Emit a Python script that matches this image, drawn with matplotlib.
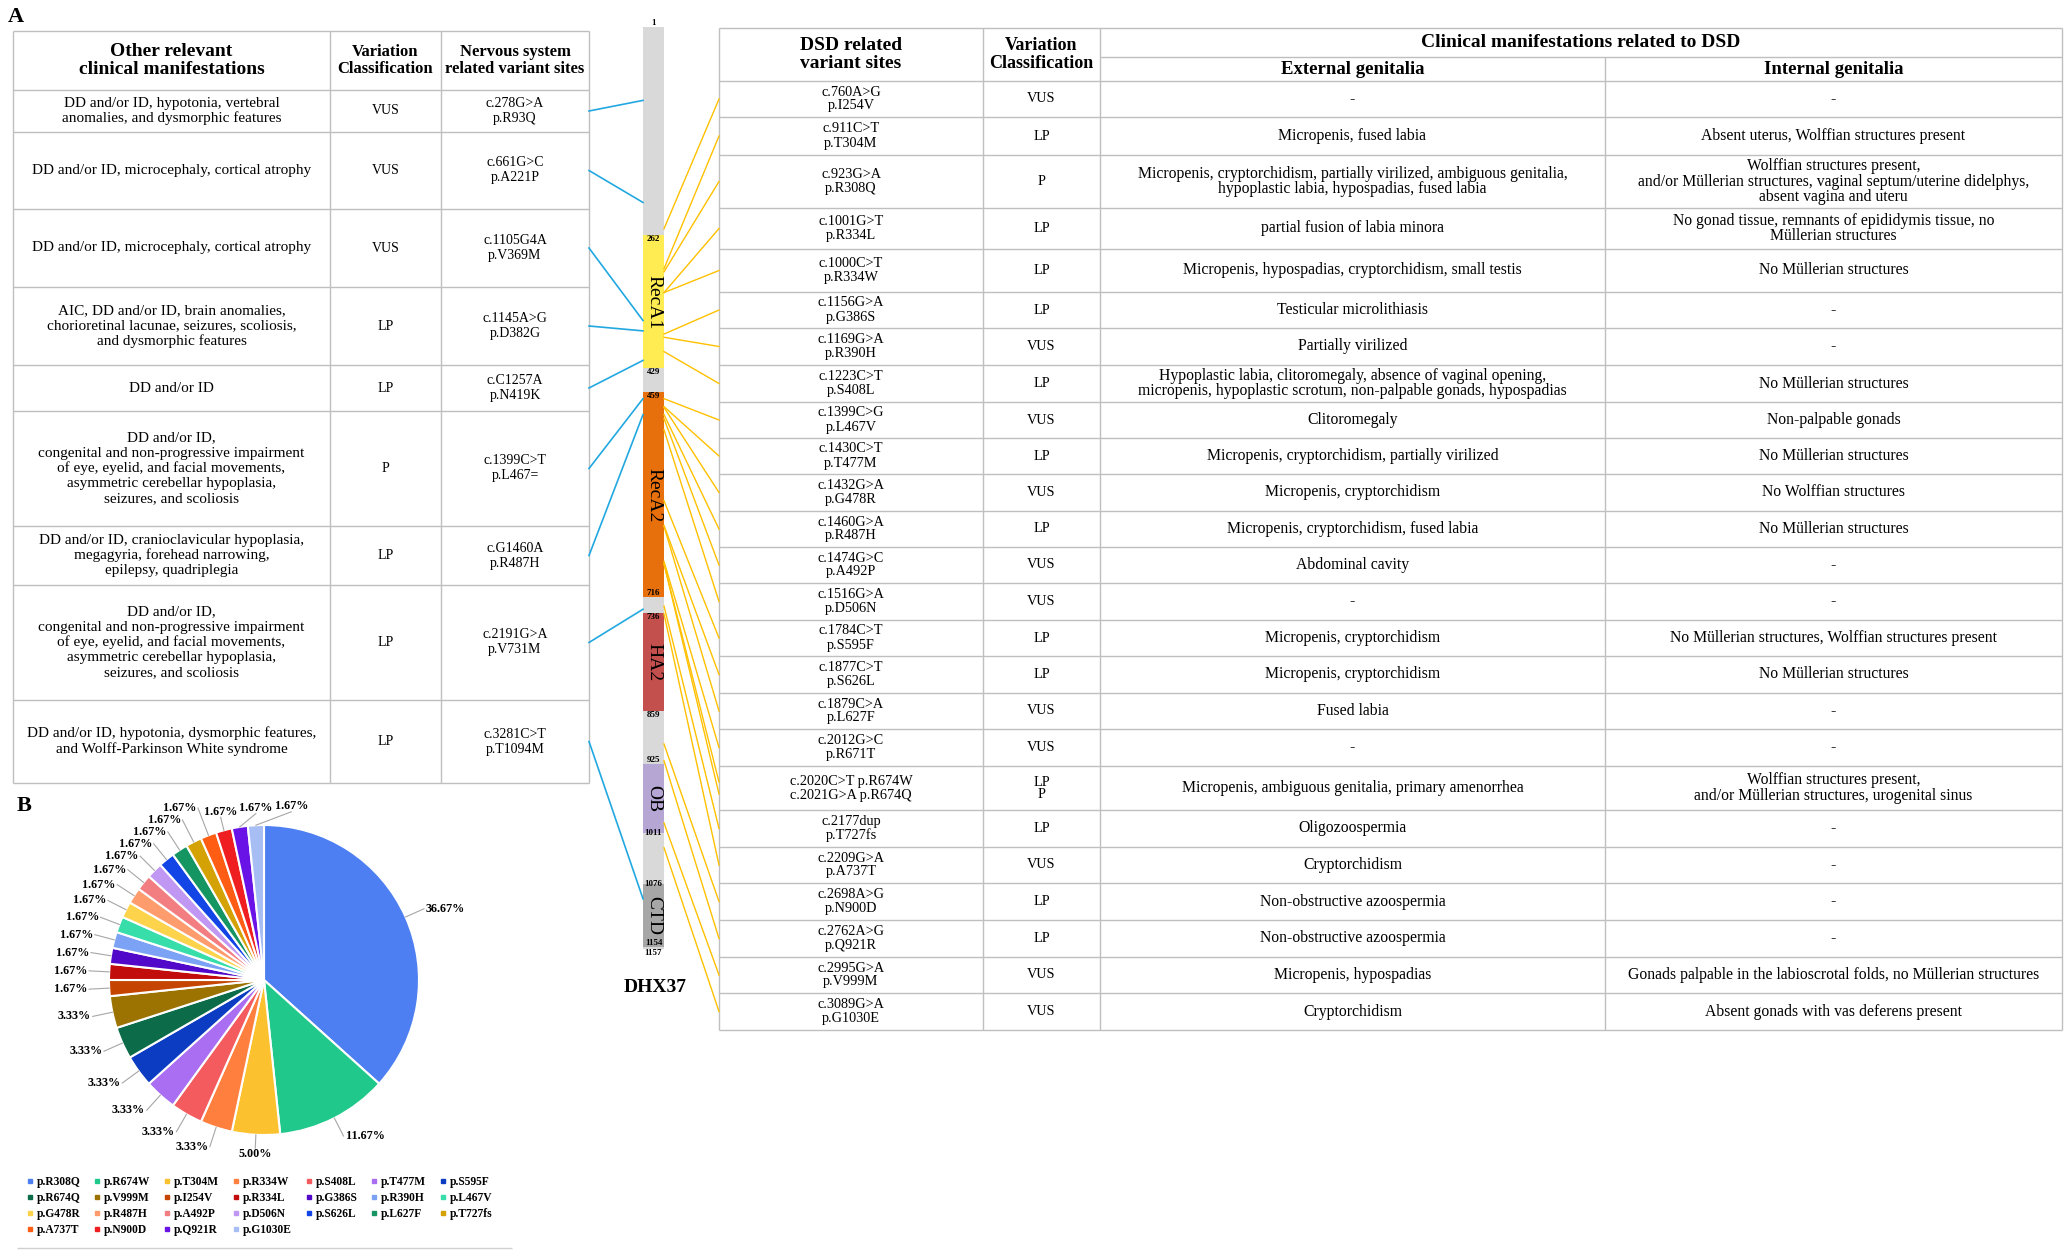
import matplotlib.pyplot as plt
from matplotlib.patches import Rectangle
from matplotlib.lines import Line2D
import numpy as np

plt.rcParams['font.family'] = ['Liberation Serif', 'DejaVu Serif']

# ---------------- data ----------------
# left table: nervous system related variants
other_manif = [
    'DD and/or ID, hypotonia, vertebral\nanomalies, and dysmorphic features',
    'DD and/or ID, microcephaly, cortical atrophy',
    'DD and/or ID, microcephaly, cortical atrophy',
    'AIC, DD and/or ID, brain anomalies,\nchorioretinal lacunae, seizures, scoliosis,\nand dysmorphic features',
    'DD and/or ID',
    'DD and/or ID,\ncongenital and non-progressive impairment\nof eye, eyelid, and facial movements,\n'
    'asymmetric cerebellar hypoplasia,\nseizures, and scoliosis',
    'DD and/or ID, cranioclavicular hypoplasia,\nmegagyria, forehead narrowing,\nepilepsy, quadriplegia',
    'DD and/or ID,\ncongenital and non-progressive impairment\nof eye, eyelid, and facial movements,\n'
    'asymmetric cerebellar hypoplasia,\nseizures, and scoliosis',
    'DD and/or ID, hypotonia, dysmorphic features,\nand Wolff-Parkinson White syndrome',
]
nerv_class = ['VUS', 'VUS', 'VUS', 'LP', 'LP', 'P', 'LP', 'LP', 'LP']
nerv_sites = ['c.278G>A\np.R93Q', 'c.661G>C\np.A221P', 'c.1105G4A\np.V369M', 'c.1145A>G\np.D382G',
              'c.C1257A\np.N419K', 'c.1399C>T\np.L467=', 'c.G1460A\np.R487H', 'c.2191G>A\np.V731M',
              'c.3281C>T\np.T1094M']
nerv_res = [93, 221, 369, 382, 419, 467, 487, 731, 1094]

# right table: DSD related variants
dsd_sites = ['c.760A>G\np.I254V', 'c.911C>T\np.T304M', 'c.923G>A\np.R308Q', 'c.1001G>T\np.R334L',
             'c.1000C>T\np.R334W', 'c.1156G>A\np.G386S', 'c.1169G>A\np.R390H', 'c.1223C>T\np.S408L',
             'c.1399C>G\np.L467V', 'c.1430C>T\np.T477M', 'c.1432G>A\np.G478R', 'c.1460G>A\np.R487H',
             'c.1474G>C\np.A492P', 'c.1516G>A\np.D506N', 'c.1784C>T\np.S595F', 'c.1877C>T\np.S626L',
             'c.1879C>A\np.L627F', 'c.2012G>C\np.R671T', 'c.2020C>T p.R674W\nc.2021G>A p.R674Q',
             'c.2177dup\np.T727fs', 'c.2209G>A\np.A737T', 'c.2698A>G\np.N900D', 'c.2762A>G\np.Q921R',
             'c.2995G>A\np.V999M', 'c.3089G>A\np.G1030E']
dsd_class = ['VUS', 'LP', 'P', 'LP', 'LP', 'LP', 'VUS', 'LP', 'VUS', 'LP', 'VUS', 'LP', 'VUS', 'VUS',
             'LP', 'LP', 'VUS', 'VUS', 'LP\nP', 'LP', 'VUS', 'LP', 'LP', 'VUS', 'VUS']
external = ['-', 'Micropenis, fused labia',
            'Micropenis, cryptorchidism, partially virilized, ambiguous genitalia,\n'
            'hypoplastic labia, hypospadias, fused labia',
            'partial fusion of labia minora', 'Micropenis, hypospadias, cryptorchidism, small testis',
            'Testicular microlithiasis', 'Partially virilized',
            'Hypoplastic labia, clitoromegaly, absence of vaginal opening,\n'
            'micropenis, hypoplastic scrotum, non-palpable gonads, hypospadias',
            'Clitoromegaly', 'Micropenis, cryptorchidism, partially virilized', 'Micropenis, cryptorchidism',
            'Micropenis, cryptorchidism, fused labia', 'Abdominal cavity', '-', 'Micropenis, cryptorchidism',
            'Micropenis, cryptorchidism', 'Fused labia', '-',
            'Micropenis, ambiguous genitalia, primary amenorrhea', 'Oligozoospermia', 'Cryptorchidism',
            'Non-obstructive azoospermia', 'Non-obstructive azoospermia', 'Micropenis, hypospadias',
            'Cryptorchidism']
internal = ['-', 'Absent uterus, Wolffian structures present',
            'Wolffian structures present,\nand/or M\u00fcllerian structures, vaginal septum/uterine didelphys,\n'
            'absent vagina and uteru',
            'No gonad tissue, remnants of epididymis tissue, no\nM\u00fcllerian structures',
            'No M\u00fcllerian structures', '-', '-', 'No M\u00fcllerian structures', 'Non-palpable gonads',
            'No M\u00fcllerian structures', 'No Wolffian structures', 'No M\u00fcllerian structures', '-', '-',
            'No M\u00fcllerian structures, Wolffian structures present', 'No M\u00fcllerian structures', '-', '-',
            'Wolffian structures present,\nand/or M\u00fcllerian structures, urogenital sinus',
            '-', '-', '-', '-', 'Gonads palpable in the labioscrotal folds, no M\u00fcllerian structures',
            'Absent gonads with vas deferens present']
dsd_res = [[254], [304], [308], [334], [334], [386], [390], [408], [467], [477], [478], [487], [492],
           [506], [595], [626], [627], [671], [674, 674], [727], [737], [900], [921], [999], [1030]]

# DHX37 protein domains
prot_len = 1157
dom_names = ['RecA1', 'RecA2', 'HA2', 'OB', 'CTD']
dom_start = [262, 459, 736, 925, 1076]
dom_end = [429, 716, 859, 1011, 1154]
dom_colors = ['#ffec52', '#e8700c', '#c4504e', '#b5a6d4', '#a7a7a7']
pos_labels = [1, 262, 429, 459, 716, 736, 859, 925, 1011, 1076, 1154, 1157]
pos_va = ['bottom', 'top', 'top', 'top', 'bottom', 'top', 'top', 'bottom', 'center', 'center', 'bottom', 'top']

# pie: variant counts
pie_labels = ['p.R308Q', 'p.R674W', 'p.T304M', 'p.R334W', 'p.S408L', 'p.T477M', 'p.S595F', 'p.R674Q',
              'p.V999M', 'p.I254V', 'p.R334L', 'p.G386S', 'p.R390H', 'p.L467V', 'p.G478R', 'p.R487H',
              'p.A492P', 'p.D506N', 'p.S626L', 'p.L627F', 'p.T727fs', 'p.A737T', 'p.N900D', 'p.Q921R',
              'p.G1030E']
pie_counts = [22, 7, 3, 2, 2, 2, 2, 2, 2, 1, 1, 1, 1, 1, 1, 1, 1, 1, 1, 1, 1, 1, 1, 1, 1]
pie_colors = ['#4e7ff2', '#20c98b', '#fcc12e', '#ff7f3f', '#f45b5f', '#a96ef2', '#0b3cc1', '#0c6b48',
              '#9c7200', '#c54400', '#c20d0d', '#5208c8', '#7ca2f5', '#37deaa', '#fdd34c', '#ff9c6d',
              '#f37e82', '#c197f4', '#1345e6', '#159562', '#d4a205', '#ff5c14', '#ef1e20', '#6a13e6',
              '#a7bef5']

# ---------------- layout (pixels) ----------------
W, H = 2072, 1257
grid_c = '#bfbfbf'
left_x = [13, 330, 441, 589]
left_y = [31, 90, 132, 209, 287, 365, 411, 526, 585, 700, 783]
right_x = [719, 983, 1100, 1605, 2062]
right_y = [28, 81, 117, 155, 208, 249, 292, 328, 365, 402, 438, 474, 511, 547, 583, 620, 656, 693,
           729, 766, 810, 847, 883, 920, 957, 993, 1030]
sub_y = 57
bar_x0, bar_x1 = 643, 664
bar_top, bar_bot = 27, 949


def ypos(res):
    return bar_top + (res - 1) * (bar_bot - bar_top) / (prot_len - 1)


fig = plt.figure(figsize=(W / 100, H / 100), dpi=100)
ax = fig.add_axes([0, 0, 1, 1])
ax.set_xlim(0, W)
ax.set_ylim(H, 0)
ax.axis('off')

# ---- left table
ax.hlines(left_y, left_x[0], left_x[-1], color=grid_c, lw=1.0)
ax.vlines(left_x, left_y[0], left_y[-1], color=grid_c, lw=1.0)
hy = (left_y[0] + left_y[1]) / 2
ax.text((left_x[0] + left_x[1]) / 2, hy, 'Other relevant\nclinical manifestations', ha='center', va='center',
        fontsize=14, fontweight='bold', linespacing=1.1)
ax.text((left_x[1] + left_x[2]) / 2, hy, 'Variation\nClassification', ha='center', va='center',
        fontsize=12, fontweight='bold', linespacing=1.1)
ax.text((left_x[2] + left_x[3]) / 2, hy, 'Nervous system\nrelated variant sites', ha='center', va='center',
        fontsize=12, fontweight='bold', linespacing=1.1)
for i in range(len(other_manif)):
    yc = (left_y[i + 1] + left_y[i + 2]) / 2
    ax.text((left_x[0] + left_x[1]) / 2, yc, other_manif[i], ha='center', va='center', fontsize=11,
            linespacing=1.2)
    ax.text((left_x[1] + left_x[2]) / 2, yc, nerv_class[i], ha='center', va='center', fontsize=10)
    ax.text((left_x[2] + left_x[3]) / 2, yc, nerv_sites[i], ha='center', va='center', fontsize=10,
            linespacing=1.2)
    ax.plot([left_x[-1], bar_x0], [yc, ypos(nerv_res[i])], color='#22a8e0', lw=1.2)

# ---- right table
ax.hlines(right_y, right_x[0], right_x[-1], color=grid_c, lw=1.0)
ax.hlines(sub_y, right_x[2], right_x[-1], color=grid_c, lw=1.0)
ax.vlines([right_x[0], right_x[1], right_x[2], right_x[4]], right_y[0], right_y[-1], color=grid_c, lw=1.0)
ax.vlines(right_x[3], sub_y, right_y[-1], color=grid_c, lw=1.0)
hy = (right_y[0] + right_y[1]) / 2
ax.text((right_x[0] + right_x[1]) / 2, hy, 'DSD related\nvariant sites', ha='center', va='center',
        fontsize=14, fontweight='bold', linespacing=1.05)
ax.text((right_x[1] + right_x[2]) / 2, hy, 'Variation\nClassification', ha='center', va='center',
        fontsize=13, fontweight='bold', linespacing=1.0)
ax.text((right_x[2] + right_x[4]) / 2, (right_y[0] + sub_y) / 2, 'Clinical manifestations related to DSD',
        ha='center', va='center', fontsize=14, fontweight='bold')
ax.text((right_x[2] + right_x[3]) / 2, (sub_y + right_y[1]) / 2, 'External genitalia',
        ha='center', va='center', fontsize=13.5, fontweight='bold')
ax.text((right_x[3] + right_x[4]) / 2, (sub_y + right_y[1]) / 2, 'Internal genitalia',
        ha='center', va='center', fontsize=13.5, fontweight='bold')
for i in range(len(dsd_sites)):
    yc = (right_y[i + 1] + right_y[i + 2]) / 2
    ax.text((right_x[0] + right_x[1]) / 2, yc, dsd_sites[i], ha='center', va='center', fontsize=10.3,
            linespacing=1.1)
    ax.text((right_x[1] + right_x[2]) / 2, yc, dsd_class[i], ha='center', va='center', fontsize=10.3,
            linespacing=0.9)
    ax.text((right_x[2] + right_x[3]) / 2, yc, external[i], ha='center', va='center', fontsize=11.3,
            linespacing=0.95)
    ax.text((right_x[3] + right_x[4]) / 2, yc, internal[i], ha='center', va='center', fontsize=11.3,
            linespacing=0.95)
    k = len(dsd_res[i])
    for j, r in enumerate(dsd_res[i]):
        ax.plot([bar_x1, right_x[0]], [ypos(r), yc + (j - (k - 1) / 2) * 12], color='#ffc000', lw=1.0)

# ---- protein bar
ax.add_patch(Rectangle((bar_x0, bar_top), bar_x1 - bar_x0, bar_bot - bar_top, color='#d9d9d9', lw=0))
for name, s, e, c in zip(dom_names, dom_start, dom_end, dom_colors):
    ax.add_patch(Rectangle((bar_x0, ypos(s)), bar_x1 - bar_x0, ypos(e) - ypos(s), color=c, lw=0))
    ax.text((bar_x0 + bar_x1) / 2, (ypos(s) + ypos(e)) / 2, name, rotation=-90, ha='center', va='center',
            fontsize=14)
for p, va in zip(pos_labels, pos_va):
    ax.text((bar_x0 + bar_x1) / 2, ypos(p), str(p), ha='center', va=va, fontsize=6.5, fontweight='bold')
ax.text(655, 988, 'DHX37', ha='center', va='center', fontsize=14, fontweight='bold')

ax.text(8, 17, 'A', ha='left', va='center', fontsize=16, fontweight='bold')
ax.text(17, 806, 'B', ha='left', va='center', fontsize=16, fontweight='bold')
ax.hlines(1248, 17, 512, color='#d0d0d0', lw=1.0)

# ---- pie chart
ax2 = fig.add_axes([0, 0, 1, 1])
cx, cy, R = 264, H - 980, 155
wedges, _ = ax2.pie(pie_counts, colors=pie_colors, startangle=90, counterclock=False, radius=R,
                    center=(cx, cy), wedgeprops=dict(edgecolor='white', linewidth=1.5))
ax2.set_aspect('auto')
ax2.set_xlim(0, W)
ax2.set_ylim(0, H)
ax2.axis('off')

# data labels with leader lines; side labels move outwards, top/bottom ones sideways
total = sum(pie_counts)
boxes = []
for w, n in zip(wedges, pie_counts):
    ang = np.deg2rad((w.theta1 + w.theta2) / 2)
    c, s = np.cos(ang), np.sin(ang)
    txt = f'{n / total * 100:.2f}%'
    tw, th = 6.5 * len(txt), 11
    side = abs(c) >= 0.3
    rr = R * (1.13 if side else 1.08)
    shift = 0.0
    while True:
        px, py = cx + rr * c, cy + rr * s
        if c <= -0.3:
            box = (px - tw - 2, py - th / 2, px - 2, py + th / 2)
        elif c >= 0.3:
            box = (px + 2, py - th / 2, px + tw + 2, py + th / 2)
        elif s > 0:
            box = (px - tw / 2 + shift, py + 1, px + tw / 2 + shift, py + 1 + th)
        else:
            box = (px - tw / 2 + shift, py - 1 - th, px + tw / 2 + shift, py - 1)
        hit = any(box[0] < b[2] + 1 and box[2] > b[0] - 1 and box[1] < b[3] + 0.5 and box[3] > b[1] - 0.5
                  for b in boxes)
        if not hit:
            break
        if side:
            rr += 1.5
        else:
            shift += 2 if s > 0 else -2
    boxes.append(box)
    if side:
        end = (px, py)
    else:
        end = ((box[0] + box[2]) / 2, box[1] if s > 0 else box[3])
    ax2.plot([cx + R * c, end[0]], [cy + R * s, end[1]], color='#a6a6a6', lw=0.8)
    ax2.text((box[0] + box[2]) / 2, (box[1] + box[3]) / 2, txt, ha='center', va='center', fontsize=8.7,
             fontweight='bold')

# legend, filled row by row like the original
ncol = 7
nrows = int(np.ceil(len(pie_labels) / ncol))
order = [i * ncol + j for j in range(ncol) for i in range(nrows) if i * ncol + j < len(pie_labels)]
handles = [Line2D([], [], marker='s', ls='', color=pie_colors[k], markersize=3.2) for k in order]
fig.legend(handles, [pie_labels[k] for k in order], loc='upper left', bbox_to_anchor=(27 / W, 1 - 1176 / H),
           ncol=ncol, frameon=False, borderpad=0, borderaxespad=0, handlelength=0.5, handletextpad=0.35,
           columnspacing=1.2, labelspacing=0.35, prop={'weight': 'bold', 'size': 8.3})

fig.savefig('out.png', dpi=100)
